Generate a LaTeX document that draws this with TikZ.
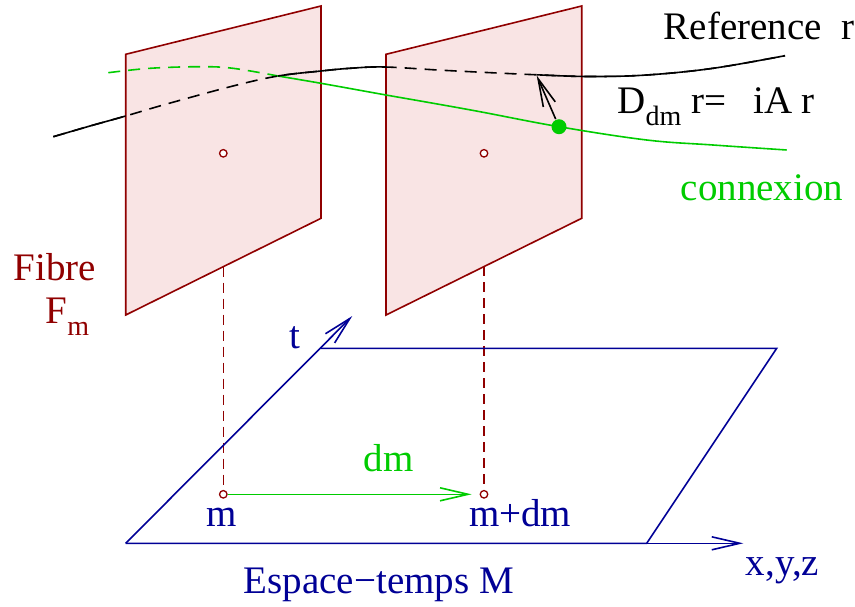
\documentclass[tikz,border=0pt]{standalone}
\usepackage{fontspec}
\setmainfont{Liberation Serif}
\usetikzlibrary{arrows.meta}
\definecolor{fred}{RGB}{144,0,0}
\definecolor{fpink}{RGB}{249,228,228}
\definecolor{sblue}{RGB}{0,0,150}
\definecolor{cgreen}{RGB}{0,204,0}
\newcommand\mysub[1]{\raisebox{-12pt}{\fontsize{28}{30}\selectfont #1}}
\begin{document}
\begin{tikzpicture}[x=1pt,y=-1pt,line width=1.6pt,
  lab/.style={inner sep=0pt,anchor=base west,font=\fontsize{39}{45}\selectfont},
  plane/.style={draw=fred,fill=fpink,line join=miter},
  pt/.style={circle,draw=fred,fill=white,inner sep=0pt,minimum size=7.5pt,line width=1.3pt},
  arr/.style={-{Straight Barb[length=28pt,width=13pt]}},
  vdash/.style={draw=fred,dash pattern=on 10pt off 6pt},
  bdash/.style={dash pattern=on 12pt off 8pt}]
\useasboundingbox (0,0) rectangle (855,606);
% fibres
\draw[plane] (125.7,54.3) -- (321,6) -- (321,218.3) -- (125.7,315) -- cycle;
\draw[plane] (386,54.3) -- (581.7,6) -- (581.7,218.3) -- (386,315) -- cycle;
\node[pt] (c1) at (223.3,153.3) {};
\node[pt] (c2) at (484,153.3) {};
% feet of fibres
\coordinate (f1) at (223.3,266.7);
\coordinate (f2) at (484,266.4);
\node[pt] (m1) at (223.3,494.3) {};
\node[pt] (m2) at (484,494.3) {};
\draw[vdash] (f1) -- (m1);
\draw[vdash] (f2) -- (m2);
% space-time
\coordinate (s1) at (125.7,543.3);
\coordinate (s2) at (321,348.3);
\coordinate (s3) at (776.7,348.3);
\coordinate (s4) at (646.7,543.3);
\coordinate (tt) at (352.3,316);
\coordinate (xx) at (743.3,543.3);
\draw[sblue,line join=miter] (s2) -- (s3) -- (s4) -- (s1);
\draw[sblue,arr] (s1) -- (tt);
\draw[sblue,arr] (s4) -- (xx);
\draw[cgreen,arr,shorten >=8pt] (m1) -- (m2);
% green connection curve
\draw[cgreen,bdash] plot[smooth,tension=0.6] coordinates {(108.3,72.7) (150,68.3) (200,66.7) (233,68.3) (278,76)};
\draw[cgreen] plot[smooth,tension=0.6] coordinates {(278,76) (321,83.3) (386,95) (430,102.7) (480,111.7) (559,126.7) (646.7,140) (713,145) (786.7,150)};
% black reference curve
\def\refcurve{plot[smooth,tension=0.6] coordinates {(53.3,136.7) (90,126) (125.7,116) (166.7,104) (233,86) (278,76) (321,71) (350,68.3) (385,67) (446.7,70.5) (536.7,74.8) (590,76.5) (646.7,75) (713,68.3) (785,55.7)}}
\draw[black,bdash] \refcurve;
\begin{scope}
\clip (0,0) rectangle (125.7,606) (278,0) rectangle (386,606) (536.7,0) rectangle (855,606);
\draw[black] \refcurve;
\end{scope}
\node[circle,fill=cgreen,inner sep=0pt,minimum size=15pt] (gd) at (559,126.7) {};
\coordinate (tip) at (536.7,75.5);
\draw[black,arr] (gd) -- (tip);
% labels
\node[lab] (ref) at (663,39) {Reference\ \ r};
\node[lab] (dl) at (616.7,113) {D\mysub{dm} r=\hspace{27pt}iA r};
\node[lab,text=cgreen] (cx) at (680,200) {connexion};
\node[lab,text=fred] (fib) at (13,280) {Fibre};
\node[lab,text=fred] (fm) at (45,323) {F\mysub{m}};
\node[lab,text=sblue] (tl) at (289,348) {t};
\node[lab,text=sblue] (ml) at (206,526.7) {m};
\node[lab,text=sblue] (mdl) at (468.3,526.7) {m+dm};
\node[lab,text=cgreen] (dml) at (363,471.7) {dm};
\node[lab,text=sblue] (esp) at (243,593) {Espace−temps M};
\node[lab,text=sblue] (xyz) at (745,575) {x,y,z};
\end{tikzpicture}
\end{document}
